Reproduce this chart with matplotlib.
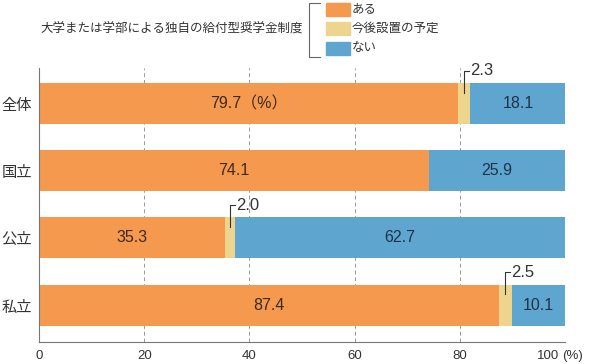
import numpy as np
import matplotlib.pyplot as plt
from matplotlib.lines import Line2D

plt.rcParams['font.family'] = ['Noto Sans CJK JP', 'DejaVu Sans']

categories = ['全体', '国立', '公立', '私立']
aru = [79.7, 74.1, 35.3, 87.4]
yotei = [2.3, 0.0, 2.0, 2.5]
nai = [18.1, 25.9, 62.7, 10.1]
series_names = ['ある', '今後設置の予定', 'ない']
title = '大学または学部による独自の給付型奨学金制度'
xticks = [0, 20, 40, 60, 80, 100]
xtick_labels = ['0', '20', '40', '60', '80', '']

colors = ['#F4994E', '#EED58D', '#5EA6D0']
txt = '#333333'
numfont = ['Liberation Sans', 'Noto Sans CJK JP']

fig = plt.figure(figsize=(5.91, 3.64), dpi=100)
ax = fig.add_axes([39/591, 1-342/364, (565-39)/591, (342-68)/364])

y = np.arange(len(categories))
h = 0.61
left = np.zeros(len(categories))
for vals, c in zip([aru, yotei, nai], colors):
    ax.barh(y, vals, left=left, height=h, color=c, zorder=2)
    left = left + np.array(vals)

for i in range(len(categories)):
    lab = f'{aru[i]:.1f}' + ('（%）' if i == 0 else '')
    ax.text(aru[i] / 2, y[i], lab, ha='center', va='center', fontsize=11.5,
            color='#3d2a1c', family=numfont, zorder=3)
    ax.text(aru[i] + yotei[i] + nai[i] / 2, y[i], f'{nai[i]:.1f}', ha='center', va='center',
            fontsize=11.5, color='#1f3348', family=numfont, zorder=3)
    if yotei[i] > 0:
        xm = aru[i] + yotei[i] / 2
        ax.plot([xm, xm, xm + 0.9], [y[i] - 0.16, y[i] - 0.49, y[i] - 0.49],
                color=txt, lw=0.8, zorder=4)
        ax.text(xm + 1.2, y[i] - 0.49, f'{yotei[i]:.1f}', ha='left', va='center',
                fontsize=12, color=txt, family=numfont, zorder=4)

ax.set_xlim(0, 100)
ax.set_ylim(3.55, -0.53)
ax.set_yticks(y)
ax.set_yticklabels(categories, fontsize=11, color=txt)
ax.set_xticks(xticks)
ax.set_xticklabels(xtick_labels, fontsize=9.5, color=txt, family=numfont)
# "100 (%)" drawn by hand so the pair sits centred on the axis end
xt = ax.get_xaxis_transform()
ax.text(98.9, -0.052, str(xticks[-1]), transform=xt, fontsize=9.5, color=txt,
        family=numfont, ha='right', va='center')
ax.text(99.5, -0.052, '(%)', transform=xt, fontsize=9.5, color=txt,
        family=numfont, ha='left', va='center')
ax.tick_params(axis='y', length=0, pad=5)
ax.tick_params(axis='x', length=0, pad=6)
ax.grid(axis='x', linestyle=(0, (4, 3)), color='#999999', lw=0.7, zorder=0)
for s in ['top', 'right']:
    ax.spines[s].set_visible(False)
for s in ['left', 'bottom']:
    ax.spines[s].set_color('#777777')
    ax.spines[s].set_linewidth(0.8)

# legend block at top
fig.text(40/591, 1-29/364, title, fontsize=9, color=txt, ha='left', va='center')
fig.add_artist(Line2D([320/591, 309/591, 309/591, 320/591],
                      [1-3/364, 1-3/364, 1-57/364, 1-57/364], color='#666666', lw=0.8))
for k, (name, c) in enumerate(zip(series_names, colors)):
    yc = 1 - (9 + 19.5 * k) / 364
    fig.add_artist(plt.Rectangle((326/591, yc - 6.5/364), 24/591, 13/364,
                                 color=c, transform=fig.transFigure))
    fig.text(352/591, yc, name, fontsize=9, color=txt, ha='left', va='center')

fig.savefig('out.png', dpi=100)
